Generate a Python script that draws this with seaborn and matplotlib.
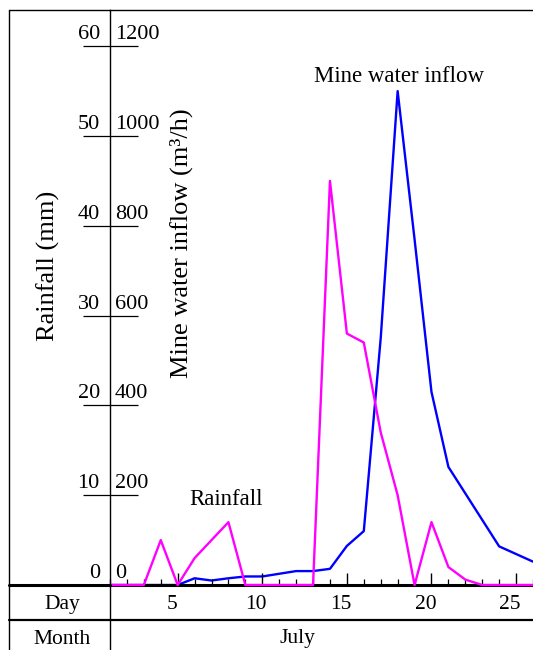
import matplotlib
matplotlib.use("Agg")
import matplotlib.pyplot as plt
from matplotlib.lines import Line2D
from matplotlib.transforms import ScaledTranslation, blended_transform_factory
import seaborn as sns
import pandas as pd

# dados (julho, dias 1-26)
days = list(range(1, 27))
rainfall = [0, 0, 0, 5, 0, 3, 5, 7, 0, 0, 0, 0, 0, 45, 28, 27, 17, 10, 0, 7, 2, 0.6, 0, 0, 0, 0]
inflow = [0, 0, 0, 0, 0, 15, 10, 15, 19, 19, 25, 31, 31, 36, 87, 120, 550, 1100, 770, 430,
          263, 204, 145, 86, 69, 52]
rain_ticks = [0, 10, 20, 30, 40, 50, 60]
inflow_ticks = [0, 200, 400, 600, 800, 1000, 1200]
day_ticks = [5, 10, 15, 20, 25]
month_label = "July"

sns.set_style("white")
plt.rcParams['font.family'] = ['Liberation Serif', 'DejaVu Serif']
plt.rcParams['font.size'] = 16
plt.rcParams['text.color'] = 'black'
plt.rcParams['xtick.color'] = 'black'
plt.rcParams['ytick.color'] = 'black'

W, H = 533, 650
fig = plt.figure(figsize=(W / 100, H / 100), dpi=100)
ax = fig.add_axes([110 / W, 65 / H, 423 / W, 575 / H])
ax2 = ax.twinx()

df = pd.DataFrame({'day': days, 'rainfall': rainfall, 'inflow': inflow})
sns.lineplot(data=df, x='day', y='inflow', ax=ax2, color='#0000ff', lw=1.7, zorder=3, clip_on=False)
sns.lineplot(data=df, x='day', y='rainfall', ax=ax, color='#ff00ff', lw=1.7, zorder=3, clip_on=False)

# magenta por cima do azul
ax.set_zorder(ax2.get_zorder() + 1)
ax.patch.set_visible(False)

ax.set_xlim(1, 26)
ax.set_ylim(0, 575 / 8.98)
ax2.set_ylim(0, 575 / 8.98 * 20)
ax.set_xlabel('')
ax.set_ylabel('')
ax2.set_ylabel('')

# eixo y: linhas de tick atravessando o eixo, rotulos acima delas
ax.set_yticks(rain_ticks)
ax.set_yticklabels([])
ax.tick_params(axis='y', which='major', left=True, direction='inout', length=39.6, width=0.9)
ax2.set_yticks([])

off = ScaledTranslation(0, 7 / 100, fig.dpi_scale_trans)
tr1 = blended_transform_factory(ax.transAxes, ax.transData) + off
tr2 = blended_transform_factory(ax2.transAxes, ax2.transData) + off
for v in rain_ticks:
   ax.text(-0.024, v, str(v), transform=tr1, ha='right', va='baseline')
for v in inflow_ticks:
   ax2.text(0.012, v, str(v), transform=tr2, ha='left', va='baseline')

# eixo x
ax.set_xticks(day_ticks, labels=[str(d) for d in day_ticks])
ax.set_xticks(days, minor=True)
ax.tick_params(axis='x', which='major', bottom=True, direction='in', length=8.6, width=1,
               pad=7.0, labelsize=15.5)
ax.tick_params(axis='x', which='minor', bottom=True, direction='in', length=4.3, width=0.9)
shift = ScaledTranslation(-6 / 100, 0, fig.dpi_scale_trans)
for lab in ax.get_xticklabels():
   lab.set_transform(lab.get_transform() + shift)

for s in ['left', 'top']:
   ax.spines[s].set_linewidth(1.0)
   ax.spines[s].set_color('black')
ax.spines['bottom'].set_linewidth(2.2)
ax.spines['bottom'].set_color('black')
ax.spines['right'].set_visible(False)
for s in ax2.spines.values():
   s.set_visible(False)

# moldura da tabela
def fline(x0, y0, x1, y1, lw=1.0):
   fig.add_artist(Line2D([x0 / W, x1 / W], [1 - y0 / H, 1 - y1 / H],
                         transform=fig.transFigure, color='black', lw=lw))

fline(9, 10, 110, 10)
fline(9, 10, 9, 650)
fline(110, 585, 110, 650)
fline(9, 585, 110, 585, 2.2)
fline(9, 620, 533, 620, 1.6)

fig.text(62 / W, 1 - 605 / H, 'Day', ha='center', va='center', fontsize=15.5)
fig.text(62 / W, 1 - 639 / H, 'Month', ha='center', va='center', fontsize=15.5)
fig.text(297 / W, 1 - 639 / H, month_label, ha='center', va='center', fontsize=15.5)

fig.text(48 / W, 1 - 266 / H, 'Rainfall (mm)', rotation=90, ha='center', va='center', fontsize=19)
fig.text(181 / W, 1 - 243 / H, 'Mine water inflow (m³/h)', rotation=90, ha='center',
         va='center', fontsize=19)

ax.text(7.84, 9.5, 'Rainfall', ha='center', va='center', fontsize=16.5)
ax.text(18.1, 56.6, 'Mine water inflow', ha='center', va='center', fontsize=16.5)

fig.savefig('out.png', dpi=100)
